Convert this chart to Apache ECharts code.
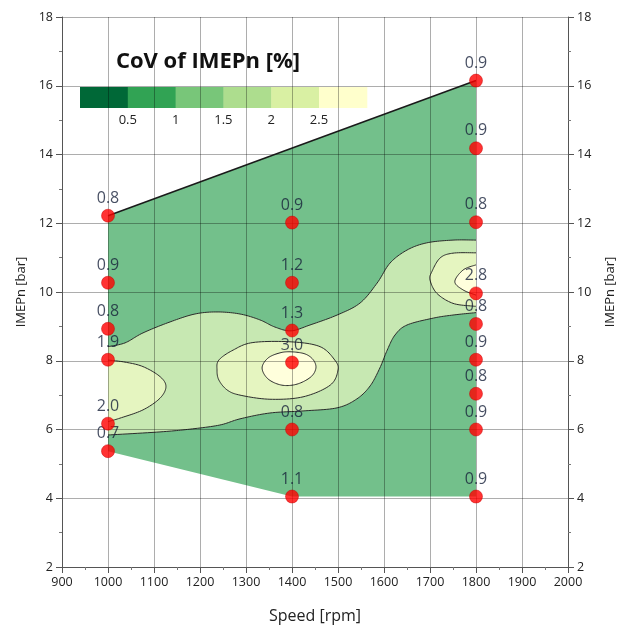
<!DOCTYPE html>
<html>
<head>
<meta charset="utf-8">
<script src="https://cdn.jsdelivr.net/npm/echarts@6/dist/echarts.min.js"></script>
<style>
  html, body { margin: 0; padding: 0; background: #ffffff; }
  #chart { width: 629px; height: 630px; }
</style>
</head>
<body>
<div id="chart"></div>
<script>
// Measured operating points: engine speed [rpm], load IMEPn [bar], CoV of IMEPn [%]
const speeds = [1000, 1000, 1000, 1000, 1000, 1000,
                1400, 1400, 1400, 1400, 1400, 1400,
                1800, 1800, 1800, 1800, 1800, 1800, 1800, 1800, 1800];
const loads = [12.22, 10.27, 8.93, 8.03, 6.17, 5.37,
               12.02, 10.27, 8.88, 7.95, 6.0, 4.05,
               16.15, 14.18, 12.03, 9.96, 9.07, 8.03, 7.04, 6.0, 4.05];
const covValues = [0.8, 0.9, 0.8, 1.9, 2.0, 0.7,
                   0.9, 1.2, 1.3, 3.0, 0.8, 1.1,
                   0.9, 0.9, 0.8, 2.8, 0.8, 0.9, 0.8, 0.9, 0.9];

// Colour scale
const legendTicks = [0.5, 1, 1.5, 2, 2.5];
const levelColors = ['#006837', '#31a354', '#78c679', '#addd8e', '#d9f0a3', '#ffffcc'];
const fillAlpha = 0.68;

// Contour boundaries [rpm, bar]
const band15Upper = [[1000, 8.41], [1037, 8.52], [1076, 8.81], [1135, 9.13], [1189, 9.36], [1237, 9.42],
                     [1287, 9.36], [1330, 9.19], [1363, 8.98], [1398, 8.87], [1439, 9.04], [1498, 9.33],
                     [1548, 9.68], [1585, 10.26], [1613, 10.84], [1650, 11.22], [1693, 11.43], [1750, 11.51], [1800, 11.51]];
const band15Lower = [[1800, 9.40], [1750, 9.33], [1707, 9.24], [1650, 9.04], [1624, 8.75], [1607, 8.31],
                     [1591, 7.79], [1570, 7.27], [1541, 6.89], [1498, 6.63], [1424, 6.54], [1352, 6.48],
                     [1287, 6.31], [1243, 6.13], [1178, 6.01], [1113, 5.93], [1000, 5.84]];
const lobe20Left = [[1000, 8.02], [1037, 7.96], [1076, 7.83], [1113, 7.54], [1126, 7.25], [1113, 6.91],
                    [1076, 6.57], [1026, 6.33], [1000, 6.23]];
const lobe20Mid = [[1237, 7.73], [1241, 8.02], [1272, 8.31], [1315, 8.53], [1398, 8.55], [1461, 8.41],
                   [1493, 8.02], [1500, 7.73], [1483, 7.29], [1424, 6.95], [1352, 6.88], [1287, 7.00],
                   [1259, 7.15], [1241, 7.44]];
const lobe20Right = [[1800, 11.14], [1750, 11.13], [1722, 10.99], [1704, 10.59], [1700, 10.35], [1715, 9.96],
                     [1750, 9.67], [1793, 9.59], [1800, 9.59]];
const lobe25Mid = [[1335, 7.79], [1348, 8.08], [1374, 8.23], [1398, 8.26], [1428, 8.20], [1446, 8.03],
                   [1452, 7.79], [1441, 7.53], [1411, 7.32], [1378, 7.29], [1348, 7.47]];
const lobe25Right = [[1800, 10.79], [1772, 10.64], [1754, 10.30], [1772, 10.06], [1800, 9.91]];

// Axis ticks [min, max, step]
const speedTicks = [900, 2000, 100];
const loadTicks = [2, 18, 2];

// ---------- helpers ----------
function blend(hex, a) {
  const n = parseInt(hex.slice(1), 16);
  const c = [(n >> 16) & 255, (n >> 8) & 255, n & 255].map(v => Math.round(v * a + 255 * (1 - a)));
  return 'rgb(' + c.join(',') + ')';
}
const fills = levelColors.map(c => blend(c, fillAlpha));

// Measured envelope: convex hull of the operating points
function convexHull(pts) {
  const p = pts.slice().sort((a, b) => a[0] - b[0] || a[1] - b[1]);
  const cross = (o, a, b) => (a[0] - o[0]) * (b[1] - o[1]) - (a[1] - o[1]) * (b[0] - o[0]);
  const lower = [], upper = [];
  for (const q of p) {
    while (lower.length >= 2 && cross(lower[lower.length - 2], lower[lower.length - 1], q) <= 0) lower.pop();
    lower.push(q);
  }
  for (let i = p.length - 1; i >= 0; i--) {
    const q = p[i];
    while (upper.length >= 2 && cross(upper[upper.length - 2], upper[upper.length - 1], q) <= 0) upper.pop();
    upper.push(q);
  }
  return lower.slice(0, -1).concat(upper.slice(0, -1));
}
const points = speeds.map((s, i) => [s, loads[i]]);
const envelope = convexHull(points);
const minSpeed = Math.min(...speeds), maxSpeed = Math.max(...speeds);
const topEdge = [
  [minSpeed, Math.max(...points.filter(p => p[0] === minSpeed).map(p => p[1]))],
  [maxSpeed, Math.max(...points.filter(p => p[0] === maxSpeed).map(p => p[1]))]
];

// Catmull-Rom sampling in pixel space
function spline(pts, closed) {
  const n = pts.length, out = [];
  if (n < 3) return pts.slice();
  const get = i => closed ? pts[(i + n) % n] : pts[Math.max(0, Math.min(n - 1, i))];
  const segs = closed ? n : n - 1;
  const steps = 12;
  for (let i = 0; i < segs; i++) {
    const p0 = get(i - 1), p1 = get(i), p2 = get(i + 1), p3 = get(i + 2);
    for (let k = 0; k < steps; k++) {
      const t = k / steps, t2 = t * t, t3 = t2 * t;
      const f = d => 0.5 * (2 * p1[d] + (-p0[d] + p2[d]) * t +
        (2 * p0[d] - 5 * p1[d] + 4 * p2[d] - p3[d]) * t2 +
        (-p0[d] + 3 * p1[d] - 3 * p2[d] + p3[d]) * t3);
      out.push([f(0), f(1)]);
    }
  }
  if (!closed) out.push(pts[n - 1]);
  return out;
}

// Filled regions, drawn in order (lowest level first)
const shapes = [
  { curves: [envelope], closed: true, smooth: false, fill: fills[1], stroke: false },
  { curves: [band15Upper, band15Lower], closed: false, smooth: true, fill: fills[3], stroke: true },
  { curves: [lobe20Left], closed: false, smooth: true, fill: fills[4], stroke: true },
  { curves: [lobe20Mid], closed: true, smooth: true, fill: fills[4], stroke: true },
  { curves: [lobe20Right], closed: false, smooth: true, fill: fills[4], stroke: true },
  { curves: [lobe25Mid], closed: true, smooth: true, fill: fills[5], stroke: true },
  { curves: [lobe25Right], closed: false, smooth: true, fill: fills[5], stroke: true }
];

const FONT = '"Open Sans", sans-serif';
const TEXT = '#222';
const chart = echarts.init(document.getElementById('chart'), null, { renderer: 'canvas' });

// Colour legend built from the level arrays
const legendX = 80, legendY = 87, boxW = 47.8, boxH = 21;
const legendGraphics = [{
  type: 'text', x: 208, y: 62,
  style: { text: 'CoV of IMEPn [%]', font: 'bold 22px ' + FONT, fill: '#111', align: 'center', verticalAlign: 'middle' }
}];
levelColors.forEach((c, i) => {
  legendGraphics.push({ type: 'rect', shape: { x: legendX + i * boxW, y: legendY, width: boxW + 0.5, height: boxH }, style: { fill: c } });
});
legendTicks.forEach((v, i) => {
  legendGraphics.push({
    type: 'text', x: legendX + (i + 1) * boxW, y: 120,
    style: { text: String(v), font: '13px ' + FONT, fill: TEXT, align: 'center', verticalAlign: 'middle' }
  });
});

const axisCommon = {
  type: 'value', z: 2,
  axisLine: { show: true, lineStyle: { color: '#555', width: 1 } },
  axisTick: { show: true, length: 6, lineStyle: { color: '#555' } },
  minorTick: { show: true, splitNumber: 2, length: 3, lineStyle: { color: '#777' } },
  splitLine: { show: false },
  axisLabel: { color: TEXT, fontFamily: FONT, fontSize: 12.5, margin: 9, formatter: v => String(v) }
};

chart.setOption({
  animation: false,
  backgroundColor: '#fff',
  grid: { left: 62, right: 61, top: 17, bottom: 63, containLabel: false },
  xAxis: Object.assign({}, axisCommon, {
    min: speedTicks[0], max: speedTicks[1], interval: speedTicks[2],
    name: 'Speed [rpm]', nameLocation: 'middle', nameGap: 41,
    nameTextStyle: { color: TEXT, fontFamily: FONT, fontSize: 16 },
    splitLine: { show: true, lineStyle: { color: 'rgba(0,0,0,0.32)', width: 1 } }
  }),
  yAxis: [
    Object.assign({}, axisCommon, {
      min: loadTicks[0], max: loadTicks[1], interval: loadTicks[2], position: 'left',
      name: 'IMEPn [bar]', nameLocation: 'middle', nameGap: 32, nameRotate: 90,
      nameTextStyle: { color: TEXT, fontFamily: FONT, fontSize: 13 },
      splitLine: { show: true, lineStyle: { color: 'rgba(0,0,0,0.32)', width: 1 } }
    }),
    Object.assign({}, axisCommon, {
      min: loadTicks[0], max: loadTicks[1], interval: loadTicks[2], position: 'right',
      name: 'IMEPn [bar]', nameLocation: 'middle', nameGap: 36, nameRotate: 90,
      nameTextStyle: { color: TEXT, fontFamily: FONT, fontSize: 13 }
    })
  ],
  graphic: legendGraphics,
  series: [
    {
      type: 'custom', z: 1, silent: true,
      data: shapes.map(s => s.curves[0][0]),
      renderItem: function (params, api) {
        const s = shapes[params.dataIndex];
        const px = s.curves.map(c => c.map(p => api.coord(p)));
        const sampled = px.map(c => s.smooth ? spline(c, s.closed) : c);
        const poly = [].concat(...sampled);
        const children = [{ type: 'polygon', shape: { points: poly }, style: { fill: s.fill, stroke: null } }];
        if (s.stroke) {
          sampled.forEach(c => children.push({
            type: s.closed ? 'polygon' : 'polyline',
            shape: { points: c },
            style: { fill: null, stroke: '#2b2b2b', lineWidth: 1 }
          }));
        }
        return { type: 'group', children: children };
      }
    },
    {
      type: 'line', z: 3, silent: true, symbol: 'none',
      data: topEdge,
      lineStyle: { color: '#1a1a1a', width: 1.6 }
    },
    {
      // value labels (kept beneath the dots)
      type: 'scatter', z: 4, silent: true,
      data: speeds.map((s, i) => [s, loads[i], covValues[i]]),
      symbolSize: 13,
      itemStyle: { color: 'rgba(0,0,0,0)' },
      label: {
        show: true, position: 'top', distance: 3,
        formatter: p => p.value[2].toFixed(1),
        color: '#16203a', fontFamily: FONT, fontSize: 16
      }
    },
    {
      type: 'scatter', z: 5, silent: true,
      data: speeds.map((s, i) => [s, loads[i]]),
      symbolSize: 13,
      itemStyle: { color: '#ff0000', borderColor: '#c80000', borderWidth: 0.6 }
    }
  ]
});
</script>
</body>
</html>
